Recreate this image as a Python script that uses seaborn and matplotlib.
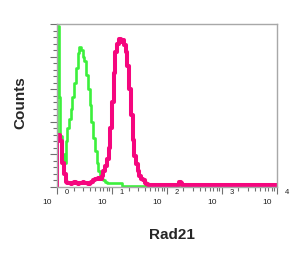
import numpy as np
import matplotlib
matplotlib.use("Agg")
import matplotlib.pyplot as plt
import matplotlib.ticker as mticker
import seaborn as sns

# histogram channels: 128 bins over 4 log decades (10^0 .. 10^4)
n_bins = 128
decades = [0, 1, 2, 3, 4]

# green: control (isotype) histogram
control_counts = [
    99, 55, 31, 20, 15, 28, 36, 42, 48, 55, 64, 73, 82, 86, 84, 80,
    77, 69, 60, 50, 40, 30, 22, 15, 10, 7, 5, 4, 3, 2.5, 2.5, 2.5,
    2.5, 2.5, 2.5, 2.5, 2.5, 2.5, 0.8, 0.8, 0.8, 0.8, 0.8, 0.8, 0.8, 0.8, 0.8, 0.8,
    0.8, 0.8, 0.8, 0.8, 0, 0, 0, 0, 0, 0, 0, 0, 0, 0, 0, 0,
    0, 0, 0, 0, 0, 0, 0, 0, 0, 0, 0, 0, 0, 0, 0, 0,
    0, 0, 0, 0, 0, 0, 0, 0, 0, 0, 0, 0, 0, 0, 0, 0,
    0, 0, 0, 0, 0, 0, 0, 0, 0, 0, 0, 0, 0, 0, 0, 0,
    0, 0, 0, 0, 0, 0, 0, 0, 0, 0, 0, 0, 0, 0, 0, 0,
]

# magenta: Rad21 stained histogram
rad21_counts = [
    32, 32, 28, 15, 8, 3, 2.5, 2.5, 2, 2.5, 3, 2.5, 2, 2.5, 2.5, 3,
    2.5, 2.5, 2, 2.5, 3, 4, 5, 5, 5.5, 5, 7, 10, 13, 17, 24, 36,
    52, 70, 83, 88, 91, 89, 90, 87, 83, 74, 60, 44, 29, 19, 14, 10,
    7, 5, 4, 2.5, 2, 1.5, 1, 1, 1, 1, 1, 1, 1, 1, 1, 1,
    1, 1, 1, 1, 1, 1, 1, 3, 2.5, 1, 1, 1, 1, 1, 1, 1,
    1, 1, 1, 1, 1, 1, 1, 1, 1, 1, 1, 1, 1, 1, 1, 1,
    1, 1, 1, 1, 1, 1, 1, 1, 1, 1, 1, 1, 1, 1, 1, 1,
    1, 1, 1, 1, 1, 1, 1, 1, 1, 1, 1, 1, 1, 1, 1, 1,
]

edges = 10 ** (np.arange(n_bins + 1) * 4 / n_bins)

sns.set_style("white")
fig = plt.figure(figsize=(3.0, 2.54), dpi=100)
ax = fig.add_axes([0.19, 0.2638, 0.733, 0.6417])


def step_xy(counts):
    xs = np.concatenate([[edges[0]], edges])
    ys = np.concatenate([[0], counts, [counts[-1]]])
    return xs, ys


xs, ys = step_xy(control_counts)
sns.lineplot(x=xs, y=ys, estimator=None, sort=False, drawstyle="steps-post",
             color="#3cf03c", linewidth=1.9, ax=ax)
xs, ys = step_xy(rad21_counts)
sns.lineplot(x=xs, y=ys, estimator=None, sort=False, drawstyle="steps-post",
             color="#f5067e", linewidth=2.9, ax=ax)

ax.set_xscale("log")
ax.set_xlim(1, 1e4)
ax.set_ylim(0, 100)

for s in ax.spines.values():
    s.set_color("#a8a8a8")
    s.set_linewidth(1.0)

ax.xaxis.set_major_locator(mticker.FixedLocator([10 ** d for d in decades]))
ax.xaxis.set_minor_locator(mticker.LogLocator(base=10, subs=np.arange(2, 10)))
ax.xaxis.set_minor_formatter(mticker.NullFormatter())
ax.yaxis.set_major_locator(mticker.MultipleLocator(20))
ax.yaxis.set_minor_locator(mticker.MultipleLocator(4))
ax.tick_params(axis="both", which="major", direction="out", length=5, width=0.8,
               color="#707070", labelbottom=False, labelleft=False,
               bottom=True, left=True)
ax.tick_params(axis="both", which="minor", direction="out", length=3, width=0.8,
               color="#707070", bottom=True, left=True)
ax.set_xlabel("")
ax.set_ylabel("")

# FlowJo-style decade labels: "10" below-left, exponent above-right
for d in decades:
    ax.annotate("10", xy=(10 ** d, 0), xycoords=("data", "axes fraction"),
                xytext=(-10, -16), textcoords="offset pixels",
                ha="center", va="center", fontsize=6, color="#222222",
                family="Liberation Sans", annotation_clip=False)
    ax.annotate(str(d), xy=(10 ** d, 0), xycoords=("data", "axes fraction"),
                xytext=(10, -6), textcoords="offset pixels",
                ha="center", va="center", fontsize=5.5, color="#222222",
                family="Liberation Sans", annotation_clip=False)

fig.text(20 / 300, 1 - 103 / 254, "Counts", rotation=90, ha="center", va="center",
         fontsize=11, fontweight="bold", family="Liberation Sans")
fig.text(172 / 300, 1 - 235 / 254, "Rad21", ha="center", va="center",
         fontsize=11, fontweight="bold", family="Liberation Sans")

fig.savefig("out.png", dpi=100, facecolor="white")
